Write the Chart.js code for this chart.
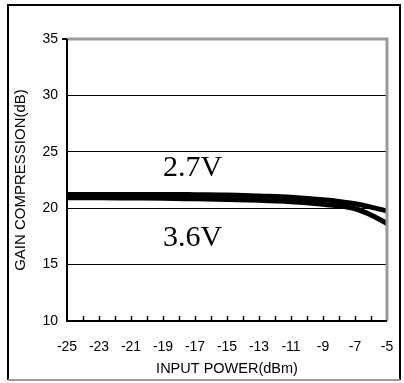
<!DOCTYPE html>
<html>
<head>
<meta charset="utf-8">
<script src="https://cdn.jsdelivr.net/npm/chart.js@4.4.1/dist/chart.umd.min.js"></script>
<style>
  html, body { margin: 0; padding: 0; background: #fff; }
  #wrap { width: 404px; height: 383px; position: relative; }
</style>
</head>
<body>
<div id="wrap"><canvas id="grafico" width="404" height="383"></canvas></div>
<script>
// dados
const potencia = [-25, -23, -21, -19, -17, -15, -13, -11, -9, -8, -7, -6, -5];
const ganho27 = [21.22, 21.22, 21.22, 21.22, 21.2, 21.17, 21.08, 20.98, 20.75, 20.6, 20.4, 20.1, 19.75];
const ganho36 = [20.92, 20.92, 20.9, 20.88, 20.83, 20.78, 20.7, 20.57, 20.35, 20.2, 19.95, 19.4, 18.65];
const nomesSeries = ["2.7V", "3.6V"];
const tituloX = "INPUT POWER(dBm)";
const tituloY = "GAIN COMPRESSION(dB)";

const FONTE = "'Liberation Sans', Arial, sans-serif";
const COR_BORDA_CINZA = "#9a9a9a";

// moldura, bordas do gráfico, ticks internos e rótulos das curvas
const extras = {
    id: "extras",
    afterDraw(chart) {
        const c = chart.ctx;
        const a = chart.chartArea;
        const sx = chart.scales.x, sy = chart.scales.y;
        c.save();

        // moldura externa
        c.strokeStyle = "#000";
        c.lineWidth = 2;
        c.beginPath();
        c.moveTo(8, 380); c.lineTo(8, 5); c.lineTo(400, 5); c.lineTo(400, 380);
        c.stroke();
        c.strokeStyle = COR_BORDA_CINZA;
        c.beginPath(); c.moveTo(8, 380); c.lineTo(400, 380); c.stroke();

        // topo e direita cinza
        c.strokeStyle = COR_BORDA_CINZA;
        c.lineWidth = 3;
        c.beginPath();
        c.moveTo(a.left, a.top); c.lineTo(a.right, a.top); c.lineTo(a.right, a.bottom);
        c.stroke();

        // esquerda e base pretas
        c.strokeStyle = "#000";
        c.lineWidth = 2;
        c.beginPath();
        c.moveTo(a.left, a.top); c.lineTo(a.left, a.bottom); c.lineTo(a.right, a.bottom);
        c.stroke();
        c.beginPath(); c.moveTo(a.left - 5, a.top); c.lineTo(a.left, a.top); c.stroke();

        // ticks menores para dentro
        c.lineWidth = 1.5;
        for (let v = -24; v <= -6; v++) {
            const px = Math.round(sx.getPixelForValue(v)) + 0.5;
            c.beginPath(); c.moveTo(px, a.bottom); c.lineTo(px, a.bottom - 5); c.stroke();
        }

        // rótulos das curvas
        c.fillStyle = "#000";
        c.font = "30px 'Liberation Serif', 'Times New Roman', serif";
        c.textAlign = "left";
        c.textBaseline = "alphabetic";
        c.fillText(nomesSeries[0], sx.getPixelForValue(-19), sy.getPixelForValue(22.85));
        c.fillText(nomesSeries[1], sx.getPixelForValue(-19), sy.getPixelForValue(16.65));
        c.restore();
    }
};

const ctx = document.getElementById("grafico");

new Chart(ctx, {
    type: "line",
    data: {
        datasets: [
            {
                label: nomesSeries[0],
                data: potencia.map((x, i) => ({ x, y: ganho27[i] })),
                borderColor: "#000",
                borderWidth: 5,
                pointRadius: 0,
                cubicInterpolationMode: "monotone"
            },
            {
                label: nomesSeries[1],
                data: potencia.map((x, i) => ({ x, y: ganho36[i] })),
                borderColor: "#000",
                borderWidth: 5,
                pointRadius: 0,
                cubicInterpolationMode: "monotone"
            }
        ]
    },
    options: {
        responsive: false,
        animation: false,
        layout: { padding: { top: 39, right: 17, left: 0, bottom: 0 } },
        plugins: { legend: { display: false }, tooltip: { enabled: false } },
        scales: {
            x: {
                type: "linear",
                min: -25, max: -5,
                grid: { display: false, drawTicks: false },
                border: { display: false },
                ticks: {
                    stepSize: 2,
                    color: "#000",
                    padding: 18,
                    font: { family: FONTE, size: 14 }
                },
                title: {
                    display: true, text: tituloX, color: "#000",
                    font: { family: FONTE, size: 14.5 }, padding: { top: 0, bottom: 5 }
                },
                afterFit(s) { s.height = 62; s.paddingLeft = 0; s.paddingRight = 0; }
            },
            y: {
                min: 10, max: 35,
                grid: {
                    color: ctx => (ctx.tick.value === 10 || ctx.tick.value === 35) ? "rgba(0,0,0,0)" : "#000",
                    lineWidth: 1,
                    drawTicks: false
                },
                border: { display: false },
                ticks: {
                    stepSize: 5,
                    color: "#000",
                    padding: 9,
                    font: { family: FONTE, size: 14 }
                },
                title: {
                    display: true, text: tituloY, color: "#000",
                    font: { family: FONTE, size: 15 }, padding: { top: 12, bottom: 0 }
                },
                afterFit(s) { s.width = 67; s.paddingTop = 0; s.paddingBottom = 0; }
            }
        }
    },
    plugins: [extras]
});
</script>
</body>
</html>
